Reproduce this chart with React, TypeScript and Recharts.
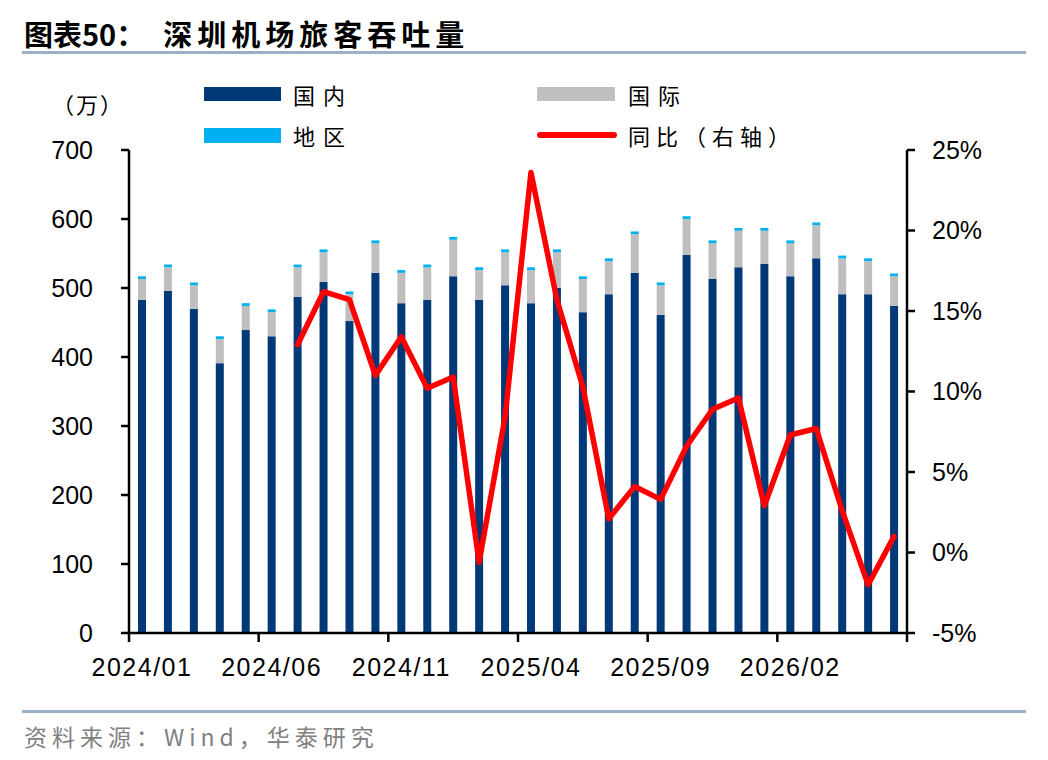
import React from "react";
import { Bar, ComposedChart, Line, XAxis, YAxis } from "recharts";

const MONTHS = [
  "2024/01", "2024/02", "2024/03", "2024/04", "2024/05", "2024/06",
  "2024/07", "2024/08", "2024/09", "2024/10", "2024/11", "2024/12",
  "2025/01", "2025/02", "2025/03", "2025/04", "2025/05", "2025/06",
  "2025/07", "2025/08", "2025/09", "2025/10", "2025/11", "2025/12",
  "2026/01", "2026/02", "2026/03", "2026/04", "2026/05", "2026/06"
];

// 万人次
const DOMESTIC = [
  483, 496, 470, 391, 439, 430, 487, 509, 452, 522, 478, 483, 517, 483, 504,
  478, 500, 465, 491, 522, 461, 548, 513, 530, 535, 517, 543, 491, 491, 474
];
const INTERNATIONAL = [
  30, 34, 34, 35, 35, 35, 43, 43, 39, 43, 44, 47, 53, 43, 48,
  48, 52, 48, 48, 56, 43, 52, 52, 53, 48, 48, 48, 52, 48, 43
];
const REGIONAL = [
  4, 4, 4, 4, 4, 4, 4, 4, 4, 4, 4, 4, 4, 4, 4,
  4, 4, 4, 4, 4, 4, 4, 4, 4, 4, 4, 4, 4, 4, 4
];
// 同比 %, 右轴
const YOY: Array<number | null> = [
  null, null, null, null, null, null, 12.9, 16.2, 15.7, 11.0, 13.4, 10.2, 10.9, -0.6, 8.4,
  23.6, 15.7, 10.3, 2.1, 4.1, 3.3, 6.6, 8.9, 9.6, 2.9, 7.3, 7.7, 2.6, -2.0, 1.0
];

const LEFT_TICKS = [0, 100, 200, 300, 400, 500, 600, 700];
const RIGHT_TICKS = [-5, 0, 5, 10, 15, 20, 25];

const NAVY = "#003878";
const GRAY = "#BFBFBF";
const CYAN = "#00B0F0";
const RED = "#FF0000";
const RULE = "#9AB0C9";

const W = 1048;
const H = 760;
const M = { top: 150, right: 41, bottom: 77, left: 29 };
const AXIS_W = 100;
const PLOT_W = W - M.left - M.right - 2 * AXIS_W;
const BAND = PLOT_W / MONTHS.length;

const data = MONTHS.map((month, i) => ({
  month,
  domestic: DOMESTIC[i],
  intl: INTERNATIONAL[i],
  region: REGIONAL[i],
  yoy: YOY[i]
}));

const numFont = { fontFamily: "'Liberation Sans', Arial, sans-serif", fontSize: 25, fill: "#000" };
const cjk = "'Noto Sans CJK SC', 'Noto Sans', sans-serif";

function MonthTick(props: any) {
  const { x, y, payload } = props;
  const index = props.index ?? payload.index;
  const half = BAND / 2;
  const last = index === MONTHS.length - 1;
  return (
    <g>
      {index % 5 === 0 && (
        <line x1={x - half} x2={x - half} y1={y} y2={y + 9} stroke="#000" strokeWidth={2.5} />
      )}
      {last && <line x1={x + half} x2={x + half} y1={y} y2={y + 9} stroke="#000" strokeWidth={2.5} />}
      {index % 5 === 0 && (
        <text x={x} y={y + 43} textAnchor="middle" letterSpacing={1.5} {...numFont}>
          {payload.value}
        </text>
      )}
    </g>
  );
}

const legendText: React.CSSProperties = {
  position: "absolute",
  fontFamily: cjk,
  fontSize: 22,
  letterSpacing: 8,
  lineHeight: "22px",
  color: "#000"
};

export default function App() {
  return (
    <div style={{ position: "absolute", left: 0, top: 0, width: W, height: H, background: "#fff", overflow: "hidden" }}>
      <div
        style={{
          position: "absolute",
          left: 24,
          top: 18,
          fontFamily: cjk,
          fontWeight: 700,
          fontSize: 29,
          lineHeight: "30px",
          whiteSpace: "nowrap"
        }}
      >
        <span>图表50：</span>
        <span style={{ marginLeft: 18, letterSpacing: 5 }}>深圳机场旅客吞吐量</span>
      </div>
      <div style={{ position: "absolute", left: 22, top: 51, width: 1004, height: 3, background: RULE }} />

      <div style={{ ...legendText, left: 52, top: 92, letterSpacing: 2 }}>（万）</div>

      <div style={{ position: "absolute", left: 204, top: 87, width: 77, height: 14, background: NAVY }} />
      <div style={{ ...legendText, left: 293, top: 83 }}>国内</div>
      <div style={{ position: "absolute", left: 537, top: 87, width: 78, height: 14, background: GRAY }} />
      <div style={{ ...legendText, left: 628, top: 83 }}>国际</div>
      <div style={{ position: "absolute", left: 204, top: 128, width: 77, height: 15, background: CYAN }} />
      <div style={{ ...legendText, left: 293, top: 124 }}>地区</div>
      <div style={{ position: "absolute", left: 537, top: 132, width: 80, height: 6, borderRadius: 3, background: RED }} />
      <div style={{ ...legendText, left: 628, top: 124, letterSpacing: 6 }}>同比（右轴）</div>

      <div style={{ position: "absolute", left: 0, top: 0 }}>
        <ComposedChart width={W} height={H} data={data} margin={M}>
          <XAxis
            dataKey="month"
            interval={0}
            height={50}
            tickSize={0}
            tickMargin={0}
            tickLine={false}
            axisLine={{ stroke: "#000", strokeWidth: 2.5 }}
            tick={<MonthTick />}
          />
          <YAxis
            yAxisId="left"
            width={AXIS_W}
            domain={[0, 700]}
            ticks={LEFT_TICKS}
            interval={0}
            tickSize={8}
            tickMargin={28}
            axisLine={{ stroke: "#000", strokeWidth: 2.5 }}
            tickLine={{ stroke: "#000", strokeWidth: 2.5 }}
            tick={numFont}
          />
          <YAxis
            yAxisId="right"
            orientation="right"
            width={AXIS_W}
            domain={[-5, 25]}
            ticks={RIGHT_TICKS}
            interval={0}
            tickSize={8}
            tickMargin={17}
            axisLine={{ stroke: "#000", strokeWidth: 2.5 }}
            tickLine={{ stroke: "#000", strokeWidth: 2.5 }}
            tick={{ ...numFont, textAnchor: "start" }}
            tickFormatter={(v) => `${v}%`}
          />
          <Bar yAxisId="left" dataKey="domestic" name="国内" stackId="a" fill={NAVY} barSize={8} isAnimationActive={false} />
          <Bar yAxisId="left" dataKey="intl" name="国际" stackId="a" fill={GRAY} barSize={8} isAnimationActive={false} />
          <Bar yAxisId="left" dataKey="region" name="地区" stackId="a" fill={CYAN} barSize={8} isAnimationActive={false} />
          <Line
            yAxisId="right"
            type="linear"
            dataKey="yoy"
            name="同比（右轴）"
            stroke={RED}
            strokeWidth={5.5}
            strokeLinejoin="round"
            strokeLinecap="round"
            dot={false}
            activeDot={false}
            isAnimationActive={false}
          />
        </ComposedChart>
      </div>

      <div style={{ position: "absolute", left: 22, top: 710, width: 1004, height: 3, background: RULE }} />
      <div
        style={{
          position: "absolute",
          left: 24,
          top: 724,
          fontFamily: cjk,
          fontSize: 23,
          lineHeight: "24px",
          letterSpacing: 5,
          color: "#808080",
          whiteSpace: "nowrap"
        }}
      >
        资料来源：Wind，华泰研究
      </div>
    </div>
  );
}
